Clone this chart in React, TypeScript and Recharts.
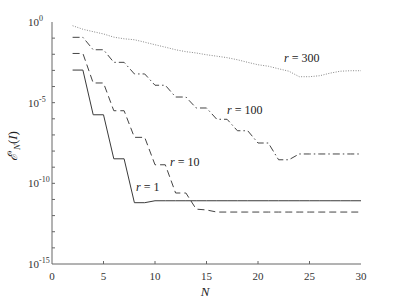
import { LineChart, Line, XAxis, YAxis } from "recharts";

// N values
const nValues = [2, 3, 4, 5, 6, 7, 8, 9, 10, 11, 12, 13, 14, 15, 16, 17, 18, 19, 20, 21, 22, 23, 24, 25, 26, 27, 28, 29, 30];

// log10 of the error
const r1Exp = [-2.98, -2.98, -5.75, -5.75, -8.48, -8.48, -11.2, -11.2, -11.08, -11.08, -11.08, -11.08, -11.08, -11.08, -11.08, -11.08, -11.08, -11.08, -11.08, -11.08, -11.08, -11.08, -11.08, -11.08, -11.08, -11.08, -11.08, -11.08, -11.08];
const r10Exp = [-1.95, -1.95, -3.78, -3.78, -5.5, -5.5, -7.15, -7.15, -8.85, -8.85, -10.6, -10.6, -11.6, -11.65, -11.78, -11.78, -11.78, -11.78, -11.78, -11.78, -11.78, -11.78, -11.78, -11.78, -11.78, -11.78, -11.78, -11.78, -11.78];
const r100Exp = [-0.95, -0.95, -1.72, -1.72, -2.5, -2.5, -3.22, -3.22, -3.92, -3.92, -4.65, -4.65, -5.33, -5.33, -6.03, -6.03, -6.74, -6.74, -7.5, -7.5, -8.54, -8.54, -8.18, -8.18, -8.18, -8.18, -8.18, -8.18, -8.18];
const r300Exp = [-0.23, -0.45, -0.6, -0.74, -0.94, -1.04, -1.1, -1.25, -1.41, -1.56, -1.72, -1.84, -1.92, -2.03, -2.12, -2.21, -2.34, -2.5, -2.65, -2.74, -2.9, -3.05, -3.39, -3.39, -3.33, -3.17, -3.05, -3.02, -3.02];

const xTicks = [0, 5, 10, 15, 20, 25, 30];
const yTicks = [-15, -14, -13, -12, -11, -10, -9, -8, -7, -6, -5, -4, -3, -2, -1, 0];
const yLabelled = [0, -5, -10, -15];

const data = nValues.map((n, i) => ({
  n,
  r1: r1Exp[i],
  r10: r10Exp[i],
  r100: r100Exp[i],
  r300: r300Exp[i],
}));

const serif = { fontFamily: '"Liberation Serif", "DejaVu Serif", serif' };
const AXIS = "#666";
const TICK = 3;

const BottomTick = (props: any) => {
  const { x, payload } = props;
  const v = payload.value;
  return (
    <g>
      {v !== 0 && v !== 30 && (
        <line x1={x} x2={x} y1={264} y2={264 - TICK} stroke={AXIS} />
      )}
      <text x={x} y={280} textAnchor="middle" style={serif} fontSize={11} fill="#333">
        {v}
      </text>
    </g>
  );
};

const TopTick = (props: any) => {
  const { x, payload } = props;
  const v = payload.value;
  if (v === 0 || v === 30) return <g />;
  return <line x1={x} x2={x} y1={22} y2={22 + TICK} stroke={AXIS} />;
};

const LeftTick = (props: any) => {
  const { y, payload } = props;
  const v = payload.value;
  return (
    <g>
      {v !== 0 && v !== -15 && (
        <line x1={52} x2={52 + TICK} y1={y} y2={y} stroke={AXIS} />
      )}
      {yLabelled.includes(v) && (
        <text x={28} y={y + 4} textAnchor="start" style={serif} fontSize={11} fill="#333">
          10
          <tspan dy={-5} fontSize={8}>
            {v === 0 ? "0" : "-" + Math.abs(v)}
          </tspan>
        </text>
      )}
    </g>
  );
};

const RightTick = (props: any) => {
  const { y, payload } = props;
  const v = payload.value;
  if (v === 0 || v === -15) return <g />;
  return <line x1={361} x2={361 - TICK} y1={y} y2={y} stroke={AXIS} />;
};

const lineLabel = (x: number, y: number, text: string) => (
  <text x={x} y={y} style={serif} fontSize={12} fill="#222">
    <tspan fontStyle="italic">r</tspan>
    {" = " + text}
  </text>
);

export default function App() {
  return (
    <div style={{ position: "absolute", left: 0, top: 0, width: 399, height: 299, background: "#fff" }}>
      <LineChart
        width={399}
        height={299}
        data={data}
        margin={{ top: 22, right: 38, bottom: 5, left: 0 }}
      >
        <XAxis
          dataKey="n"
          type="number"
          domain={[0, 30]}
          ticks={xTicks}
          tickLine={false}
          tick={<BottomTick />}
          stroke={AXIS}
          height={30}
          interval={0}
        />
        <XAxis
          xAxisId="top"
          orientation="top"
          type="number"
          domain={[0, 30]}
          ticks={xTicks}
          tickLine={false}
          tick={<TopTick />}
          stroke={AXIS}
          height={0}
          interval={0}
        />
        <YAxis
          type="number"
          domain={[-15, 0]}
          ticks={yTicks}
          tickLine={false}
          tick={<LeftTick />}
          stroke={AXIS}
          width={52}
          interval={0}
        />
        <YAxis
          yAxisId="right"
          orientation="right"
          type="number"
          domain={[-15, 0]}
          ticks={yTicks}
          tickLine={false}
          tick={<RightTick />}
          stroke={AXIS}
          width={0}
          interval={0}
        />
        <Line
          type="linear"
          dataKey="r1"
          stroke="#3a3a3a"
          strokeWidth={1}
          dot={false}
          isAnimationActive={false}
        />
        <Line
          type="linear"
          dataKey="r10"
          stroke="#444"
          strokeWidth={1}
          strokeDasharray="7 4"
          dot={false}
          isAnimationActive={false}
        />
        <Line
          type="linear"
          dataKey="r100"
          stroke="#444"
          strokeWidth={1}
          strokeDasharray="7 3 1.5 3"
          dot={false}
          isAnimationActive={false}
        />
        <Line
          type="linear"
          dataKey="r300"
          stroke="#888"
          strokeWidth={1}
          strokeDasharray="1 1.5"
          dot={false}
          isAnimationActive={false}
        />
        {lineLabel(284, 62, "300")}
        {lineLabel(227, 114, "100")}
        {lineLabel(170, 166, "10")}
        {lineLabel(136, 191, "1")}
        <text x={205} y={296} textAnchor="middle" style={serif} fontSize={13} fontStyle="italic" fill="#222">
          N
        </text>
        <text
          transform="translate(17,146) rotate(-90)"
          textAnchor="middle"
          style={serif}
          fontSize={13}
          fill="#222"
        >
          <tspan fontStyle="italic">ℰ</tspan>
          <tspan>′</tspan>
          <tspan fontStyle="italic" fontSize={9} dy={3}>N</tspan>
          <tspan dy={-3}>(</tspan>
          <tspan fontStyle="italic">I</tspan>
          <tspan>)</tspan>
        </text>
      </LineChart>
    </div>
  );
}
